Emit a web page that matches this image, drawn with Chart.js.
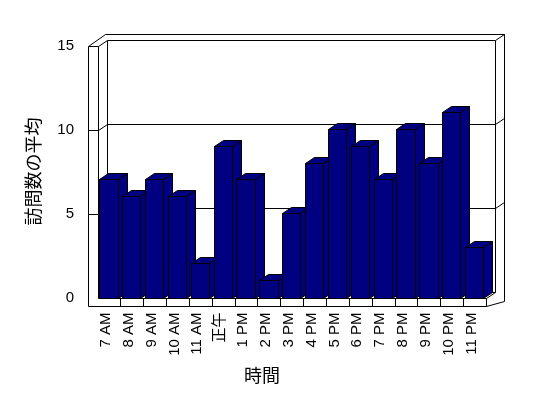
<!DOCTYPE html>
<html><head><meta charset="utf-8">
<script src="https://cdn.jsdelivr.net/npm/chart.js@4.4.0/dist/chart.umd.min.js"></script>
<style>html,body{margin:0;padding:0;background:#fff}#wrap{width:548px;height:398px}</style>
</head><body><div id="wrap"><canvas id="c" width="548" height="398"></canvas></div>
<script>
const categories = ['7 AM','8 AM','9 AM','10 AM','11 AM','正午','1 PM','2 PM','3 PM','4 PM','5 PM','6 PM','7 PM','8 PM','9 PM','10 PM','11 PM'];
const visits = [7,6,7,6,2,9,7,1,5,8,10,9,7,10,8,11,3];
const yMin = 0, yMax = 15, yStep = 5;
const gridValues = [5,10];
const yTitle = '訪問数の平均';
const xTitle = '時間';

const LATIN = "'Liberation Sans', 'Noto Sans CJK JP', sans-serif";
const CJK = "'Noto Sans CJK JP', sans-serif";
const NAVY = '#000080';

const D1 = {x: 9, y: -6};     // floor / bar depth
const D2 = {x: 8.5, y: -5.5}; // back wall thickness
const WALL = 10, FLOOR = 8.5;

function line(ctx, x1, y1, x2, y2) {
  ctx.beginPath();
  ctx.moveTo(Math.round(x1) + 0.5, Math.round(y1) + 0.5);
  ctx.lineTo(Math.round(x2) + 0.5, Math.round(y2) + 0.5);
  ctx.stroke();
}

const frame3d = {
  id: 'frame3d',
  beforeDatasetsDraw(chart) {
    const ctx = chart.ctx;
    const {left: L, right: R} = chart.chartArea;
    const ys = chart.scales.y;
    const T = ys.getPixelForValue(yMax), B = ys.getPixelForValue(yMin);
    const TX = D1.x + D2.x, TY = D1.y + D2.y;
    ctx.save();
    ctx.strokeStyle = '#000';
    ctx.lineWidth = 1;
    // left wall front face
    line(ctx, L - WALL, T, L - WALL, B + FLOOR);
    line(ctx, L - WALL, T, L, T);
    line(ctx, L, T, L, B);
    // top of walls
    line(ctx, L - WALL, T, L - WALL + TX, T + TY);
    line(ctx, L - WALL + TX, T + TY, R + TX, T + TY);
    line(ctx, L, T, L + D1.x, T + D1.y);
    // back wall front face
    line(ctx, L + D1.x, T + D1.y, R + D1.x, T + D1.y);
    line(ctx, L + D1.x, T + D1.y, L + D1.x, B + D1.y);
    line(ctx, R + D1.x, T + D1.y, R + D1.x, B + D1.y);
    line(ctx, L + D1.x, B + D1.y, R + D1.x, B + D1.y);
    // right side of back wall
    line(ctx, R + D1.x, T + D1.y, R + TX, T + TY);
    line(ctx, R + TX, T + TY, R + TX, B + 3);
    line(ctx, R + TX, B + 3, R, B + FLOOR);
    // floor
    line(ctx, L, B, R, B);
    line(ctx, L - WALL, B + FLOOR, R, B + FLOOR);
    line(ctx, R, B, R, B + FLOOR);
    line(ctx, R, B, R + D1.x, B + D1.y);
    const n = categories.length;
    const cw = (R - L) / n;
    for (let k = 1; k < n; k++) {
      const x = L + k * cw;
      line(ctx, x, B, x, B + FLOOR);
    }
    // gridlines
    gridValues.forEach(v => {
      const y = ys.getPixelForValue(v);
      line(ctx, L - WALL, y, L, y);
      line(ctx, L, y, L + D1.x, y + D1.y);
      line(ctx, L + D1.x, y + D1.y, R + D1.x, y + D1.y);
      line(ctx, R + D1.x, y + D1.y, R + TX, y + TY);
    });
    ctx.restore();
  },
  afterDatasetsDraw(chart) {
    const ctx = chart.ctx;
    const meta = chart.getDatasetMeta(0);
    ctx.save();
    ctx.strokeStyle = '#000';
    ctx.lineWidth = 1;
    ctx.fillStyle = NAVY;
    meta.data.forEach(bar => {
      const p = bar.getProps(['x', 'y', 'base', 'width'], true);
      const l = Math.floor(p.x - p.width / 2) + 0.5;
      const r = Math.ceil(p.x + p.width / 2) - 0.5;
      const t = Math.floor(p.y) + 0.5;
      const b = Math.round(p.base) + 0.5;
      // side face
      ctx.beginPath();
      ctx.moveTo(r, t); ctx.lineTo(r + D1.x, t + D1.y);
      ctx.lineTo(r + D1.x, b + D1.y); ctx.lineTo(r, b); ctx.closePath();
      ctx.fill(); ctx.stroke();
      // top face
      ctx.beginPath();
      ctx.moveTo(l, t); ctx.lineTo(l + D1.x, t + D1.y);
      ctx.lineTo(r + D1.x, t + D1.y); ctx.lineTo(r, t); ctx.closePath();
      ctx.fill(); ctx.stroke();
      // front face
      ctx.beginPath();
      ctx.rect(l, t, r - l, b - t);
      ctx.fill(); ctx.stroke();
    });
    ctx.restore();
  }
};

new Chart(document.getElementById('c'), {
  type: 'bar',
  data: {
    labels: categories,
    datasets: [{
      data: visits,
      backgroundColor: NAVY,
      borderColor: '#000',
      borderWidth: 1,
      borderSkipped: false,
      categoryPercentage: 1.0,
      barPercentage: 0.8,
      yAxisID: 'y'
    }]
  },
  options: {
    responsive: false,
    devicePixelRatio: 1,
    animation: false,
    layout: {padding: {left: 0, right: 24, top: 45.5, bottom: 11.7}},
    plugins: {
      legend: {display: false},
      tooltip: {enabled: false},
      title: {
        display: true, position: 'bottom', text: xTitle, color: '#000',
        font: {family: CJK, size: 18, weight: 'normal', lineHeight: 1.2},
        padding: 0
      }
    },
    scales: {
      x: {
        type: 'category',
        grid: {display: false, drawTicks: false},
        border: {display: false},
        ticks: {
          color: '#000', font: {family: LATIN, size: 15},
          minRotation: 90, maxRotation: 90, autoSkip: false, padding: 15,
          labelOffset: -3
        },
        afterFit(s) { s.height = 398 - 11.7 - 21.6 - 297.5; }
      },
      y: {
        position: 'left',
        min: yMin, max: yMax,
        grid: {display: false, drawTicks: false},
        border: {display: false},
        ticks: {stepSize: yStep, color: '#000', font: {family: LATIN, size: 15}, padding: 23.5},
        title: {
          display: true, text: yTitle, color: '#000',
          font: {family: CJK, size: 18, weight: 'normal', lineHeight: 1.2},
          padding: {top: 22, bottom: 0}
        },
        afterFit(s) { s.width = 97.5; }
      },
      y2: {
        position: 'right',
        min: yMin, max: yMax,
        grid: {display: false, drawTicks: false},
        border: {display: false},
        ticks: {display: false},
        afterFit(s) { s.width = 38; }
      }
    }
  },
  plugins: [frame3d]
});
</script>
</body></html>
